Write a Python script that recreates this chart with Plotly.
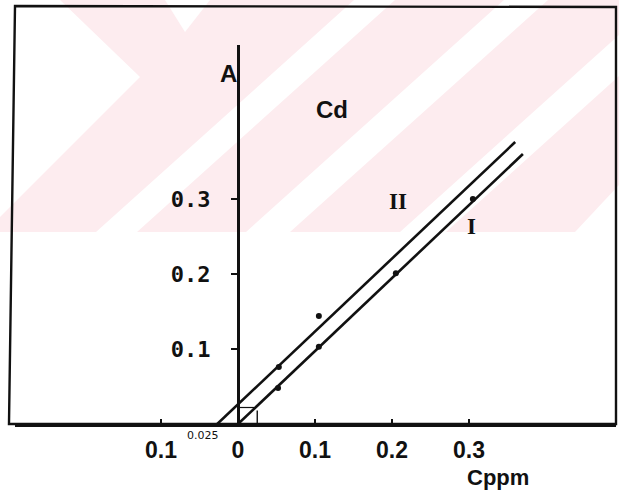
import plotly.graph_objects as go

# Cd calibration lines: absorbance A versus concentration C (ppm)
line_I_x = [0.0, 0.37]
line_I_A = [0.0, 0.36]
line_II_x = [-0.027, 0.36]
line_II_A = [0.0, 0.376]

points_I_x = [0.052, 0.105, 0.205, 0.305]
points_I_A = [0.048, 0.103, 0.201, 0.300]
points_II_x = [0.053, 0.105]
points_II_A = [0.076, 0.144]

x_tick_vals = [-0.1, 0.0, 0.1, 0.2, 0.3]
x_tick_text = ["0.1", "0", "0.1", "0.2", "0.3"]
y_tick_vals = [0.1, 0.2, 0.3]
y_tick_text = ["0.1", "0.2", "0.3"]

W, H = 619, 497
L, R, T, B = 15, 3, 6, 73
PW, PH = W - L - R, H - T - B


def px(x):
    return (x - L) / PW


def py(y):
    return (H - B - y) / PH


def poly(points):
    return "M " + " L ".join(f"{px(a):.4f},{py(b):.4f}" for a, b in points) + " Z"


INK = "#111111"
PINK = "#fdecef"

fig = go.Figure()

fig.add_trace(go.Scatter(x=line_II_x, y=line_II_A, mode="lines",
                         line=dict(color=INK, width=2.6), showlegend=False))
fig.add_trace(go.Scatter(x=line_I_x, y=line_I_A, mode="lines",
                         line=dict(color=INK, width=2.6), showlegend=False))
fig.add_trace(go.Scatter(x=points_I_x, y=points_I_A, mode="markers",
                         marker=dict(color=INK, size=6), showlegend=False))
fig.add_trace(go.Scatter(x=points_II_x, y=points_II_A, mode="markers",
                         marker=dict(color=INK, size=6), showlegend=False))

shapes = []
# faint diagonal background stripes across the upper part of the page
shapes.append(dict(type="path", xref="paper", yref="paper", layer="below",
                   path=poly([(0, 0), (W, 0), (W, 232), (0, 232)]),
                   fillcolor=PINK, line=dict(width=0)))
white_regions = [
    [(0, 0), (60, 0), (140, 77), (0, 217)],
    [(165, 0), (185, 32), (210, 0)],
    [(96, 232), (137, 232), (395, 0), (354, 0)],
    [(246, 232), (290, 232), (548, 0), (504, 0)],
    [(400, 232), (446, 232), (619, 76), (619, 35)],
    [(575, 232), (619, 185), (619, 232)],
]
for reg in white_regions:
    shapes.append(dict(type="path", xref="paper", yref="paper", layer="below",
                       path=poly(reg), fillcolor="white", line=dict(width=0)))

# outer frame
shapes.append(dict(type="path", xref="paper", yref="paper",
                   path="M {:.4f},{:.4f} L {:.4f},{:.4f} L {:.4f},{:.4f} L {:.4f},{:.4f} Z".format(
                       px(15), py(6), px(616), py(7), px(616), py(424), px(9), py(424)),
                   line=dict(color=INK, width=2.4)))
# small intercept bracket near the origin
shapes.append(dict(type="line", xref="x", yref="y", x0=0.0, x1=0.022, y0=0.022, y1=0.022,
                   line=dict(color=INK, width=1.2)))
shapes.append(dict(type="line", xref="x", yref="y", x0=0.025, x1=0.025, y0=0.0, y1=0.018,
                   line=dict(color=INK, width=1.4)))

sans = "Liberation Sans, Arial, sans-serif"
serif = "Liberation Serif, Times New Roman, serif"
annotations = [
    dict(text="A", x=px(228), y=py(74), font=dict(size=24, family=sans, color=INK, weight="bold")),
    dict(text="Cd", x=px(332), y=py(110), font=dict(size=24, family=sans, color=INK, weight="bold")),
    dict(text="II", x=px(398), y=py(201), font=dict(size=23, family=serif, color=INK, weight="bold")),
    dict(text="I", x=px(471), y=py(227), font=dict(size=23, family=serif, color=INK, weight="bold")),
    dict(text="Cppm", x=px(498), y=py(477), font=dict(size=22, family=sans, color=INK, weight="bold")),
    dict(text="0.025", x=px(203), y=py(436), font=dict(size=11, family="DejaVu Sans", color=INK)),
]
for a in annotations:
    a.update(xref="paper", yref="paper", showarrow=False, xanchor="center", yanchor="middle")

fig.update_layout(
    width=W, height=H,
    margin=dict(l=L, r=R, t=T, b=B),
    paper_bgcolor="white", plot_bgcolor="rgba(0,0,0,0)",
    shapes=shapes, annotations=annotations, showlegend=False,
    xaxis=dict(range=[(L - 238) / 770, (W - R - 238) / 770],
               showgrid=False, zeroline=False, showline=True, linecolor=INK, linewidth=3,
               tickvals=x_tick_vals, ticktext=x_tick_text, ticks="inside", ticklen=5,
               tickwidth=2, tickcolor=INK, ticklabelstandoff=3,
               tickfont=dict(size=23, family=sans, color=INK, weight="bold")),
    yaxis=dict(range=[0, (424 - 45) / 750], domain=[0, (424 - 45) / PH],
               anchor="free", position=(238 - L) / PW,
               showgrid=False, zeroline=False, showline=True, linecolor=INK, linewidth=3,
               tickvals=y_tick_vals, ticktext=y_tick_text, ticks="outside", ticklen=6,
               tickwidth=2, tickcolor=INK, ticklabelstandoff=16,
               tickfont=dict(size=22, family="DejaVu Sans Mono", color=INK, weight="bold")),
)

fig.write_html("out.html")
